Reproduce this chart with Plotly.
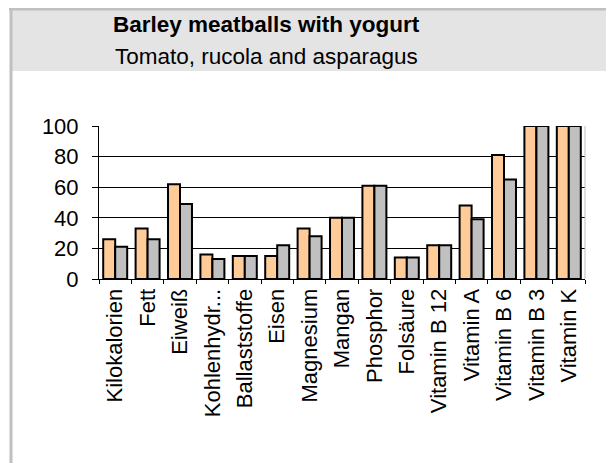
import plotly.graph_objects as go

# ── Data ────────────────────────────────────────────────────────────────────
categories = [
    "Kilokalorien", "Fett", "Eiweiß", "Kohlenhydr...", "Ballaststoffe",
    "Eisen", "Magnesium", "Mangan", "Phosphor", "Folsäure",
    "Vitamin B 12", "Vitamin A", "Vitamin B 6", "Vitamin B 3", "Vitamin K",
]
series_a = [26, 33, 62, 16, 15, 15, 33, 40, 61, 14, 22, 48, 81, 100, 100]
series_b = [21, 26, 49, 13, 15, 22, 28, 40, 61, 14, 22, 39, 65, 100, 100]
y_ticks = [0, 20, 40, 60, 80, 100]

title = "Barley meatballs with yogurt"
subtitle = "Tomato, rucola and asparagus"

# ── Geometry (screen pixels; page body has an 8px margin) ──────────────────
OFF = 8
W, H = 614 - OFF, 463 - OFF
PL, PR, PT, PB = 99, 585, 126, 279   # plot area edges on screen


def px_x(x):
    return (x - PL) / (PR - PL)


def px_y(y):
    return (PB - y) / (PB - PT)


FONT = "Liberation Sans, Arial, sans-serif"

fig = go.Figure()
for vals, color in [(series_a, "#FFCC99"), (series_b, "#C0C0C0")]:
    fig.add_trace(go.Bar(
        x=categories, y=vals,
        marker=dict(color=color, line=dict(color="#000000", width=2)),
        showlegend=False,
    ))

fig.update_layout(
    width=W, height=H, autosize=False,
    margin=dict(l=PL - OFF, r=W - (PR - OFF), t=PT - OFF, b=H - (PB - OFF), pad=0),
    paper_bgcolor="#ffffff", plot_bgcolor="#ffffff",
    font=dict(family=FONT, size=22, color="#000000"),
    barmode="group", bargap=0.26, bargroupgap=0,
)

fig.update_xaxes(
    type="category", tickangle=-90, showgrid=False,
    showline=True, linecolor="#000000", linewidth=1,
    ticks="outside", tickson="boundaries", ticklen=4, tickcolor="#000000",
    tickfont=dict(size=22),
)
fig.update_yaxes(
    range=[0, 100], tickvals=y_ticks, showgrid=True,
    gridcolor="#000000", gridwidth=1, zeroline=False,
    showline=True, linecolor="#000000", linewidth=1,
    ticks="outside", ticklen=6, tickcolor="#000000",
    ticklabelstandoff=9, tickfont=dict(size=22),
)

# right edge of plot area
fig.add_shape(type="line", xref="paper", yref="paper",
              x0=1, x1=1, y0=0, y1=1, line=dict(color="#BDBDBD", width=1))

# title band and frame
fig.add_shape(type="rect", xref="paper", yref="paper", layer="below",
              x0=px_x(11), x1=px_x(620), y0=px_y(71), y1=px_y(9),
              fillcolor="#E4E4E4", line=dict(width=0))
fig.add_shape(type="line", xref="paper", yref="paper",
              x0=px_x(9), x1=px_x(620), y0=px_y(9), y1=px_y(9),
              line=dict(color="#C0C0C0", width=3))
fig.add_shape(type="line", xref="paper", yref="paper",
              x0=px_x(11), x1=px_x(11), y0=px_y(8), y1=px_y(470),
              line=dict(color="#C0C0C0", width=3))

fig.add_annotation(text=f"<b>{title}</b>", xref="paper", yref="paper",
                   x=px_x(266), y=px_y(25), showarrow=False,
                   xanchor="center", yanchor="middle",
                   font=dict(size=22.5, family=FONT, color="#000000"))
fig.add_annotation(text=subtitle, xref="paper", yref="paper",
                   x=px_x(266), y=px_y(56), showarrow=False,
                   xanchor="center", yanchor="middle",
                   font=dict(size=22.5, family=FONT, color="#000000"))

fig.write_html("out.html")
